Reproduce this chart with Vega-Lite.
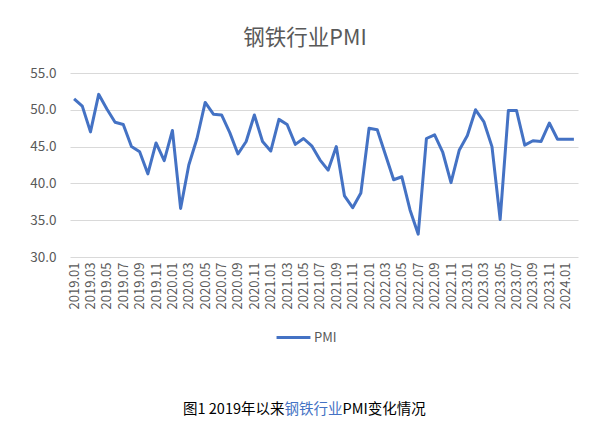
{
  "$schema": "https://vega.github.io/schema/vega-lite/v6.json",
  "width": 508,
  "height": 184,
  "autosize": {"type": "none"},
  "padding": {"left": 70, "top": 73, "right": 27, "bottom": 170},
  "background": "white",
  "config": {
    "font": "Noto Sans CJK SC",
    "view": {"stroke": null},
    "axis": {"labelFont": "Noto Sans CJK SC", "titleFont": "Noto Sans CJK SC"}
  },
  "title": {
    "text": "钢铁行业PMI",
    "fontSize": 21.5,
    "fontWeight": "normal",
    "color": "#595959",
    "anchor": "middle",
    "dx": -19,
    "offset": 17
  },
  "data": {
    "values": [
      {"month": "2019.01", "pmi": 51.5, "series": "PMI"},
      {"month": "2019.02", "pmi": 50.5, "series": "PMI"},
      {"month": "2019.03", "pmi": 47.0, "series": "PMI"},
      {"month": "2019.04", "pmi": 52.1, "series": "PMI"},
      {"month": "2019.05", "pmi": 50.1, "series": "PMI"},
      {"month": "2019.06", "pmi": 48.3, "series": "PMI"},
      {"month": "2019.07", "pmi": 48.0, "series": "PMI"},
      {"month": "2019.08", "pmi": 45.0, "series": "PMI"},
      {"month": "2019.09", "pmi": 44.3, "series": "PMI"},
      {"month": "2019.10", "pmi": 41.3, "series": "PMI"},
      {"month": "2019.11", "pmi": 45.5, "series": "PMI"},
      {"month": "2019.12", "pmi": 43.1, "series": "PMI"},
      {"month": "2020.01", "pmi": 47.2, "series": "PMI"},
      {"month": "2020.02", "pmi": 36.6, "series": "PMI"},
      {"month": "2020.03", "pmi": 42.5, "series": "PMI"},
      {"month": "2020.04", "pmi": 46.1, "series": "PMI"},
      {"month": "2020.05", "pmi": 51.0, "series": "PMI"},
      {"month": "2020.06", "pmi": 49.4, "series": "PMI"},
      {"month": "2020.07", "pmi": 49.3, "series": "PMI"},
      {"month": "2020.08", "pmi": 46.9, "series": "PMI"},
      {"month": "2020.09", "pmi": 44.0, "series": "PMI"},
      {"month": "2020.10", "pmi": 45.7, "series": "PMI"},
      {"month": "2020.11", "pmi": 49.3, "series": "PMI"},
      {"month": "2020.12", "pmi": 45.7, "series": "PMI"},
      {"month": "2021.01", "pmi": 44.4, "series": "PMI"},
      {"month": "2021.02", "pmi": 48.7, "series": "PMI"},
      {"month": "2021.03", "pmi": 48.0, "series": "PMI"},
      {"month": "2021.04", "pmi": 45.3, "series": "PMI"},
      {"month": "2021.05", "pmi": 46.1, "series": "PMI"},
      {"month": "2021.06", "pmi": 45.1, "series": "PMI"},
      {"month": "2021.07", "pmi": 43.2, "series": "PMI"},
      {"month": "2021.08", "pmi": 41.8, "series": "PMI"},
      {"month": "2021.09", "pmi": 45.0, "series": "PMI"},
      {"month": "2021.10", "pmi": 38.3, "series": "PMI"},
      {"month": "2021.11", "pmi": 36.7, "series": "PMI"},
      {"month": "2021.12", "pmi": 38.7, "series": "PMI"},
      {"month": "2022.01", "pmi": 47.5, "series": "PMI"},
      {"month": "2022.02", "pmi": 47.3, "series": "PMI"},
      {"month": "2022.03", "pmi": 43.9, "series": "PMI"},
      {"month": "2022.04", "pmi": 40.5, "series": "PMI"},
      {"month": "2022.05", "pmi": 40.9, "series": "PMI"},
      {"month": "2022.06", "pmi": 36.4, "series": "PMI"},
      {"month": "2022.07", "pmi": 33.1, "series": "PMI"},
      {"month": "2022.08", "pmi": 46.1, "series": "PMI"},
      {"month": "2022.09", "pmi": 46.6, "series": "PMI"},
      {"month": "2022.10", "pmi": 44.2, "series": "PMI"},
      {"month": "2022.11", "pmi": 40.1, "series": "PMI"},
      {"month": "2022.12", "pmi": 44.5, "series": "PMI"},
      {"month": "2023.01", "pmi": 46.5, "series": "PMI"},
      {"month": "2023.02", "pmi": 50.0, "series": "PMI"},
      {"month": "2023.03", "pmi": 48.4, "series": "PMI"},
      {"month": "2023.04", "pmi": 45.0, "series": "PMI"},
      {"month": "2023.05", "pmi": 35.1, "series": "PMI"},
      {"month": "2023.06", "pmi": 49.9, "series": "PMI"},
      {"month": "2023.07", "pmi": 49.9, "series": "PMI"},
      {"month": "2023.08", "pmi": 45.2, "series": "PMI"},
      {"month": "2023.09", "pmi": 45.8, "series": "PMI"},
      {"month": "2023.10", "pmi": 45.7, "series": "PMI"},
      {"month": "2023.11", "pmi": 48.2, "series": "PMI"},
      {"month": "2023.12", "pmi": 46.0, "series": "PMI"},
      {"month": "2024.01", "pmi": 46.0, "series": "PMI"},
      {"month": "2024.02", "pmi": 46.0, "series": "PMI"}
    ]
  },
  "encoding": {
    "x": {
      "field": "month",
      "type": "ordinal",
      "sort": null,
      "axis": {
        "values": ["2019.01","2019.03","2019.05","2019.07","2019.09","2019.11","2020.01","2020.03","2020.05","2020.07","2020.09","2020.11","2021.01","2021.03","2021.05","2021.07","2021.09","2021.11","2022.01","2022.03","2022.05","2022.07","2022.09","2022.11","2023.01","2023.03","2023.05","2023.07","2023.09","2023.11","2024.01"],
        "labelAngle": 270,
        "labelFontSize": 13,
        "labelColor": "#595959",
        "labelPadding": 5,
        "domain": false,
        "ticks": false,
        "grid": false,
        "title": "图1 2019年以来",
        "titleFontSize": 14.5,
        "titleFontWeight": "normal",
        "titleColor": "#000000",
        "titleX": 214,
        "titleY": 156,
        "titleAlign": "right",
        "titleBaseline": "alphabetic"
      }
    }
  },
  "layer": [
    {
      "mark": {"type": "line", "strokeWidth": 3, "strokeJoin": "round"},
      "encoding": {
        "y": {
          "field": "pmi",
          "type": "quantitative",
          "scale": {"domain": [30, 55], "nice": false, "zero": false},
          "axis": {
            "values": [30, 35, 40, 45, 50, 55],
            "format": ".1f",
            "labelFontSize": 13.5,
            "labelColor": "#595959",
            "labelPadding": 14,
            "domain": false,
            "ticks": false,
            "gridColor": "#d9d9d9",
            "gridWidth": 1,
            "title": "钢铁行业",
            "titleAngle": 0,
            "titleFontSize": 14.5,
            "titleFontWeight": "normal",
            "titleColor": "#4472C4",
            "titleX": 214,
            "titleY": 340,
            "titleAlign": "left",
            "titleBaseline": "alphabetic"
          }
        },
        "color": {
          "field": "series",
          "type": "nominal",
          "scale": {"range": ["#4472C4"]},
          "legend": {
            "title": null,
            "orient": "none",
            "legendX": 205,
            "legendY": 246,
            "symbolType": "stroke",
            "symbolStrokeWidth": 3,
            "symbolSize": 1150,
            "labelFontSize": 13,
            "labelColor": "#595959",
            "labelOffset": 2
          }
        }
      }
    },
    {
      "mark": {"type": "line", "opacity": 0},
      "encoding": {
        "y": {
          "field": "pmi",
          "type": "quantitative",
          "scale": {"domain": [30, 55], "nice": false, "zero": false},
          "axis": {
            "orient": "right",
            "labels": false,
            "domain": false,
            "ticks": false,
            "grid": false,
            "title": "PMI变化情况",
            "titleAngle": 0,
            "titleFontSize": 14.5,
            "titleFontWeight": "normal",
            "titleColor": "#000000",
            "titleX": -236,
            "titleY": 340,
            "titleAlign": "left",
            "titleBaseline": "alphabetic"
          }
        }
      }
    }
  ],
  "resolve": {"scale": {"y": "independent"}, "axis": {"y": "independent"}}
}
